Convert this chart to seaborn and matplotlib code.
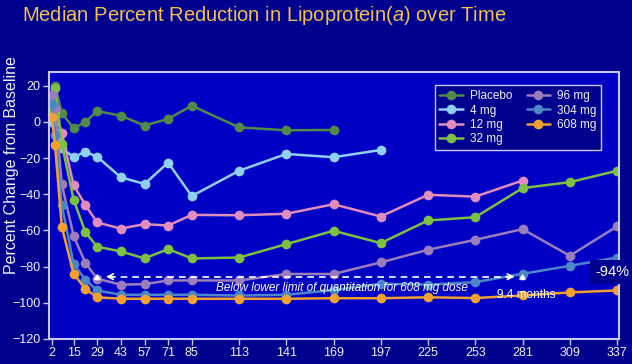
import numpy as np
import pandas as pd
import matplotlib
matplotlib.use('Agg')
import matplotlib.pyplot as plt
import seaborn as sns

# study days where Lp(a) was sampled
days = [2, 4, 8, 15, 22, 29, 43, 57, 71, 85, 113, 141, 169, 197, 225, 253, 281, 309, 337]
xticks = [2, 15, 29, 43, 57, 71, 85, 113, 141, 169, 197, 225, 253, 281, 309, 337]

placebo = [6, 20, 5, -3.5, 0, 6, 3.5, -2, 1.7, 9, -3, -4.6, -4.4]
mg4 = [0, 1, -14.5, -19.5, -16.5, -19.3, -30.6, -34.3, -22.5, -41, -27, -17.7, -19.5, -15.5]
mg12 = [3, 6, -6, -35, -46, -55.6, -59, -56.5, -57.3, -51.4, -51.6, -50.8, -45.5, -52.3,
        -40.3, -41.3, -32.4]
mg32 = [5, 19, -12, -43, -61, -69, -71.6, -75.5, -70.3, -75.5, -75, -67.6, -60.2, -67,
        -54.5, -52.7, -36.6, -33.3, -27]
mg96 = [15, 8, -34.5, -63, -78, -86.7, -90, -89.7, -87.7, -87.7, -87.7, -84.1, -84.1, -77.7,
        -70.7, -65.2, -59.3, -74, -57.8]
mg304 = [10, -7, -46, -78.6, -87.3, -93.2, -95.6, -95.6, -95.6, -95.6, -96, -95.6, -93, -89.5,
         -90, -88.6, -84, -79.6, -75]
mg608 = [3, -13, -58, -84, -92.4, -97, -97.8, -97.8, -97.8, -97.8, -97.8, -97.8, -97.5, -97.5,
         -97, -97.4, -96, -94.3, -93.2]

groups = ['Placebo', '4 mg', '12 mg', '32 mg', '96 mg', '304 mg', '608 mg']
series = [placebo, mg4, mg12, mg32, mg96, mg304, mg608]
colors = ['#4f8a4a', '#8fd0f5', '#e08cbc', '#7dc142', '#9a7dba', '#4a86c8', '#f0a030']

rows = []
for g, vals in zip(groups, series):
    for d, v in zip(days, vals):
        rows.append({'day': d, 'pct': v, 'group': g})
df = pd.DataFrame(rows)

sns.set_style('white')
plt.rcParams['font.family'] = ['Liberation Sans', 'DejaVu Sans']
plt.rcParams['mathtext.fontset'] = 'custom'
plt.rcParams['mathtext.rm'] = 'Liberation Sans'
plt.rcParams['mathtext.it'] = 'Liberation Sans:italic'

fig_bg = '#00008e'
ax_bg = '#0000c4'
txt = '#f0f0f0'

fig = plt.figure(figsize=(6.32, 3.64), dpi=100, facecolor=fig_bg)
ax = fig.add_axes([0.0775, 0.069, 0.9015, 0.733])
ax.set_facecolor(ax_bg)

sns.lineplot(data=df, x='day', y='pct', hue='group', hue_order=groups,
             palette=colors, marker='o', markersize=7, markeredgewidth=0,
             linewidth=1.8, errorbar=None, ax=ax)

ax.set_xlim(0.4, 338)
ax.set_ylim(-120, 27.6)
ax.set_xticks(xticks)
ax.set_yticks(np.arange(-120, 21, 20))
ax.tick_params(colors='#c8c8f0', labelcolor=txt, labelsize=9, length=4, width=1,
               direction='out', bottom=True, left=True, pad=2)
for s in ax.spines.values():
    s.set_color('#c8c8f0')
    s.set_linewidth(1.5)
ax.set_xlabel('')
ax.set_ylabel('Percent Change from Baseline', color=txt, fontsize=11.5)
ax.yaxis.set_label_coords(-0.052, 0.65)

leg = ax.legend(ncol=2, loc='upper right', bbox_to_anchor=(0.98, 0.972), fontsize=8.5,
                frameon=True, facecolor=fig_bg, edgecolor='#c8c8f0', framealpha=1,
                handlelength=2.0, handletextpad=0.6, columnspacing=1.2,
                labelspacing=0.2, borderpad=0.4, fancybox=False)
leg.get_frame().set_linewidth(1)
for t in leg.get_texts():
    t.set_color(txt)

# quantitation annotation
yl = -85.6
ax.plot([36, 275], [yl, yl], ls='--', color='white', lw=1.2, dashes=(4, 3))
ax.annotate('', xy=(32.5, yl), xytext=(40, yl),
            arrowprops=dict(arrowstyle='->', color='white', lw=1.2))
ax.annotate('', xy=(278, yl), xytext=(270, yl),
            arrowprops=dict(arrowstyle='->', color='white', lw=1.2))
for d in (29, 281):
    ax.annotate('', xy=(d, yl + 3), xytext=(d, yl - 3.5),
                arrowprops=dict(arrowstyle='simple,head_width=0.55,head_length=0.4,tail_width=0.3',
                                color='white', lw=0))
ax.text(174, -91.7, 'Below lower limit of quantitation for 608 mg dose', color='white',
        fontsize=8.5, style='italic', ha='center', va='center')
ax.text(283, -95.5, '9.4 months', color='white', fontsize=8.5, ha='center', va='center')
ax.text(334, -83, '-94%', color='white', fontsize=10.5, ha='center', va='center',
        clip_on=False, bbox=dict(boxstyle='square,pad=0.35', facecolor='#000090', edgecolor='none'))

fig.text(0.035, 0.958, 'Median Percent Reduction in Lipoprotein($\\it{a}$) over Time',
         color='#f5c04a', fontsize=14.5, ha='left', va='center')

fig.savefig('out.png', dpi=100, facecolor=fig_bg)
